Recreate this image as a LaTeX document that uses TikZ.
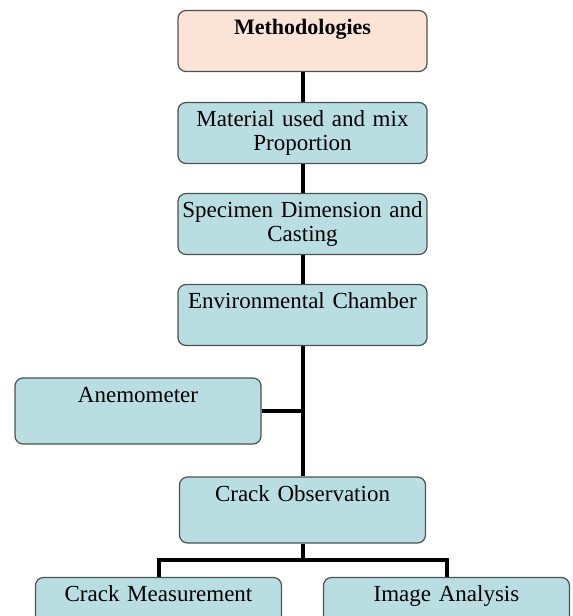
\documentclass[tikz,border=0pt]{standalone}
\usepackage{fontspec}
\setmainfont{Liberation Serif}
\usetikzlibrary{positioning}

\definecolor{boxblue}{HTML}{B8DEE2}
\definecolor{boxpeach}{HTML}{FBE3D6}
\definecolor{boxline}{HTML}{505050}

\tikzset{
  stage/.style={draw=boxline, line width=1.2pt, rounded corners=8pt, fill=boxblue,
    text width=247pt, align=center, inner sep=0pt, minimum width=249pt,
    text height=24pt, text depth=37pt, font=\fontsize{23}{23.5}\selectfont},
  lowstage/.style={stage, minimum width=246pt, text width=244pt, text depth=42pt},
  link/.style={line width=4pt}
}

\begin{document}
\begin{tikzpicture}[node distance=91pt, on grid]
   \useasboundingbox (0pt,0pt) rectangle (573pt,-616pt);
   \clip (0pt,0pt) rectangle (573pt,-616pt);
   \node[stage, fill=boxpeach, font=\fontsize{22}{23.5}\selectfont\bfseries] (meth) at (302.5pt,-41pt) {Methodologies};
   \node[stage] (mat) [below=92pt of meth] {Material used and mix\\Proportion};
   \node[stage] (spec) [below=of mat] {Specimen Dimension and\\Casting};
   \node[stage] (env) [below=of spec] {Environmental Chamber};
   \node[lowstage] (obs) [below=195pt of env] {Crack Observation};
   \node[lowstage] (anem) [below left=96pt and 164.5pt of env] {Anemometer};
   \node[lowstage] (meas) [below left=100.5pt and 144pt of obs] {Crack Measurement};
   \node[lowstage] (img) [below right=100.5pt and 144pt of obs] {Image Analysis};

   \draw[link] (meth) -- (mat);
   \draw[link] (mat) -- (spec);
   \draw[link] (spec) -- (env);
   \draw[link] (env) -- (obs);
   \draw[link] (anem.east) -- (anem.east -| env.south);
   \draw[link] (obs.south) -- ++(0,-16pt) -| (meas.north);
   \draw[link] (obs.south) -- ++(0,-16pt) -| (img.north);
\end{tikzpicture}
\end{document}
